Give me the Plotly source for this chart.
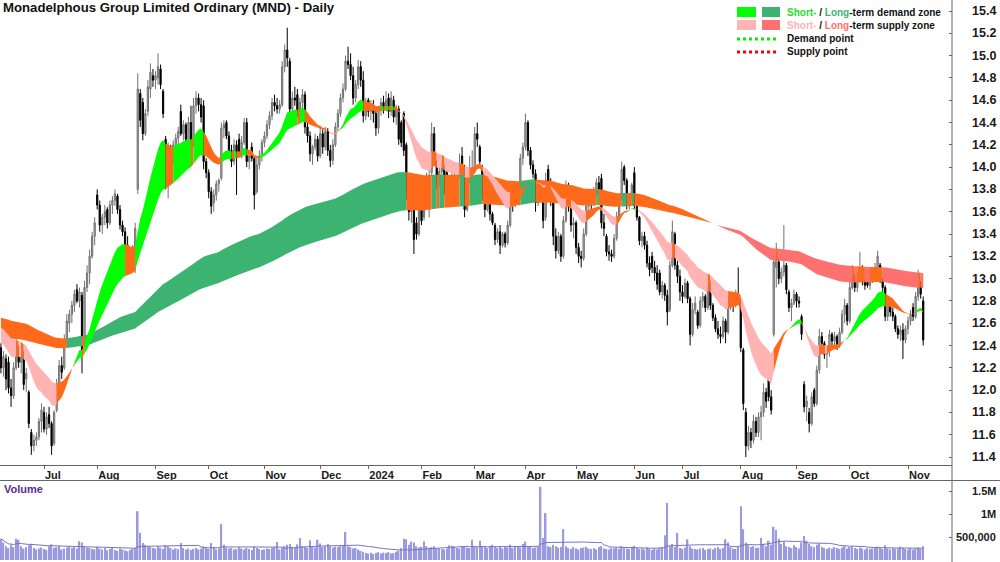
import pandas as pd
import plotly.graph_objects as go

# ---------------- data ----------------
holidays = ["2023-06-12", "2023-12-25", "2023-12-26", "2024-01-01", "2024-01-26",
            "2024-03-29", "2024-04-01", "2024-04-25", "2024-06-10"]

open_ = [
12.38,12.20,12.28,12.25,12.02,11.95,12.20,12.38,12.25,12.30,
12.10,11.98,11.62,11.50,11.55,11.58,11.72,11.80,11.65,11.78,
11.70,11.52,11.82,12.05,12.22,12.20,12.45,12.60,12.68,12.76,
12.90,12.80,12.85,12.40,12.92,13.05,13.20,13.38,13.75,13.66,
13.48,13.55,13.62,13.50,13.66,13.70,13.74,13.62,13.48,13.42,
13.30,13.26,13.15,13.20,13.80,14.66,14.58,14.30,14.50,14.70,
14.82,14.78,14.80,14.88,14.68,14.25,13.85,14.12,14.05,14.20,
14.26,14.50,14.30,14.38,14.25,14.40,14.20,14.55,14.62,14.56,
14.55,14.05,13.95,13.78,13.68,13.75,13.85,13.90,14.35,14.40,
14.28,14.15,14.05,14.20,14.25,14.14,14.22,14.40,14.05,14.18,
14.08,13.78,14.02,14.10,14.22,14.28,14.38,14.46,14.58,14.55,
14.52,14.56,14.90,15.05,14.95,14.52,14.62,14.65,14.50,14.58,
14.65,14.36,14.28,14.12,14.18,14.25,14.10,14.30,14.18,14.32,
14.15,14.06,14.20,14.36,14.48,14.62,14.70,14.95,14.92,14.82,
14.62,14.74,14.90,14.78,14.46,14.60,14.50,14.55,14.48,14.35,
14.52,14.58,14.52,14.62,14.50,14.60,14.45,14.52,14.40,14.48,
14.20,13.75,13.60,13.65,13.50,13.40,13.72,13.55,13.85,13.62,
13.95,14.30,14.05,13.85,13.96,14.00,13.95,13.84,13.88,13.92,
13.80,13.92,14.10,13.96,13.62,13.88,13.94,13.96,14.30,14.18,
14.00,13.75,13.62,13.78,13.58,13.48,13.35,13.42,13.30,13.40,
13.32,13.48,13.78,13.66,13.78,13.82,14.08,14.18,14.40,14.15,
14.02,13.94,13.68,13.78,13.80,13.55,13.98,13.86,13.70,13.38,
13.25,13.38,13.20,13.52,13.82,13.66,13.48,13.50,13.28,13.20,
13.18,13.40,13.65,13.72,13.68,13.78,13.86,13.90,13.50,13.38,
13.24,13.22,13.20,13.36,13.55,13.72,14.00,13.88,13.66,13.72,
13.95,13.66,13.55,13.34,13.38,13.30,13.14,13.20,13.10,13.05,
13.05,12.88,12.94,12.85,12.72,13.12,13.40,13.12,13.02,12.88,
12.84,12.96,12.82,12.50,12.72,12.70,12.58,12.80,12.84,12.74,
12.95,12.76,12.65,12.55,12.50,12.48,12.62,12.52,12.80,12.82,
12.76,12.86,12.80,12.36,11.80,11.50,11.62,11.55,11.72,11.62,
11.76,11.80,11.98,12.18,11.94,12.50,13.10,13.15,13.00,13.06,
13.12,12.88,12.74,12.78,12.86,12.80,12.66,12.05,11.85,11.80,
11.70,12.00,11.88,12.18,12.48,12.42,12.32,12.36,12.50,12.44,
12.48,12.40,12.52,12.68,12.76,12.62,12.92,13.02,12.92,13.02,
13.10,12.98,13.00,12.94,12.98,13.04,13.10,13.12,12.98,12.92,
12.66,12.76,12.70,12.66,12.55,12.50,12.54,12.45,12.55,12.62,
12.74,12.66,12.84,12.96,12.80]

high = [
12.42,12.35,12.32,12.30,12.10,12.25,12.47,12.40,12.42,12.35,
12.20,12.00,11.65,11.60,11.62,11.75,11.88,11.85,11.80,11.85,
11.72,11.82,12.10,12.27,12.30,12.50,12.68,12.72,12.80,12.90,
12.95,12.92,12.88,12.98,13.12,13.26,13.42,13.55,13.80,13.70,
13.58,13.66,13.64,13.70,13.74,13.80,13.76,13.66,13.52,13.46,
13.38,13.28,13.30,13.50,14.84,14.70,14.62,14.52,14.78,14.93,
14.88,14.86,15.02,14.92,14.70,14.28,14.22,14.20,14.24,14.30,
14.36,14.56,14.42,14.40,14.45,14.55,14.62,14.68,14.66,14.62,
14.60,14.08,13.98,13.82,13.80,13.88,13.90,14.40,14.42,14.42,
14.32,14.20,14.25,14.24,14.30,14.28,14.44,14.44,14.15,14.22,
14.10,14.08,14.15,14.25,14.32,14.42,14.50,14.62,14.65,14.62,
14.60,14.95,15.10,15.25,14.98,14.68,14.72,14.70,14.62,14.70,
14.68,14.40,14.32,14.20,14.30,14.28,14.35,14.34,14.36,14.35,
14.20,14.25,14.40,14.52,14.66,14.75,15.00,15.08,15.02,14.90,
14.78,14.96,14.95,14.86,14.62,14.62,14.60,14.60,14.52,14.55,
14.62,14.64,14.68,14.66,14.68,14.64,14.56,14.55,14.42,14.50,
14.22,13.85,13.78,13.68,13.55,13.80,13.74,13.90,13.95,14.00,
14.40,14.36,14.06,14.02,14.05,14.02,13.98,13.92,14.00,13.98,
13.96,14.12,14.18,14.02,13.95,14.10,14.15,14.36,14.40,14.20,
14.02,13.80,13.82,13.80,13.60,13.50,13.45,13.48,13.42,13.42,
13.52,13.82,13.84,13.82,13.86,14.12,14.22,14.48,14.42,14.18,
14.06,13.98,13.82,13.86,13.84,13.95,14.02,13.90,13.74,13.45,
13.42,13.40,13.56,13.88,13.86,13.70,13.55,13.52,13.32,13.25,
13.45,13.70,13.76,13.78,13.82,13.90,13.92,13.94,13.58,13.40,
13.30,13.26,13.40,13.60,13.76,14.05,14.02,13.90,13.75,13.86,
14.00,13.68,13.56,13.42,13.42,13.34,13.20,13.24,13.16,13.12,
13.08,12.98,12.96,12.90,13.16,13.52,13.42,13.16,13.08,12.94,
13.00,12.98,12.84,12.78,12.84,12.72,12.84,12.88,12.86,12.95,
12.98,12.78,12.68,12.62,12.57,12.66,12.64,12.84,12.86,12.84,
12.90,13.10,12.82,12.38,11.84,11.68,11.66,11.78,11.76,11.80,
11.86,12.06,12.02,12.22,12.00,13.25,13.32,13.18,13.10,13.48,
13.14,12.90,12.82,12.90,12.88,12.84,12.68,12.08,11.95,11.84,
11.98,12.02,12.22,12.55,12.52,12.44,12.40,12.54,12.52,12.52,
12.50,12.56,12.72,12.82,12.78,12.98,13.12,13.04,13.06,13.24,
13.12,13.02,13.04,13.02,13.06,13.14,13.25,13.14,13.00,12.94,
12.80,12.78,12.74,12.68,12.58,12.58,12.60,12.58,12.66,12.72,
12.78,12.88,13.08,12.98,12.84]

low = [
12.15,12.12,12.00,11.97,11.85,11.92,12.18,12.20,12.15,12.00,
11.98,11.66,11.42,11.45,11.50,11.55,11.62,11.62,11.60,11.66,
11.42,11.50,11.80,12.00,12.10,12.18,12.40,12.52,12.60,12.70,
12.78,12.74,12.15,12.38,12.88,12.95,13.18,13.30,13.62,13.42,
13.40,13.48,13.45,13.48,13.58,13.65,13.58,13.44,13.38,13.24,
13.20,13.10,13.12,13.05,13.76,14.36,14.24,14.28,14.46,14.62,
14.72,14.70,14.74,14.70,14.44,13.80,13.72,13.98,14.02,14.12,
14.18,14.28,14.24,14.20,14.22,14.10,14.18,14.48,14.50,14.40,
13.98,13.90,13.72,13.58,13.60,13.70,13.78,13.88,14.26,14.25,
14.10,14.00,14.02,13.75,14.10,14.08,14.20,14.00,13.98,14.05,
13.62,13.76,13.98,14.05,14.18,14.25,14.34,14.42,14.50,14.48,
14.48,14.54,14.85,14.90,14.45,14.42,14.55,14.45,14.40,14.52,
14.30,14.22,14.05,14.02,14.15,14.05,14.08,14.12,14.15,14.10,
14.00,14.02,14.18,14.32,14.45,14.58,14.68,14.88,14.78,14.56,
14.58,14.70,14.72,14.40,14.42,14.45,14.42,14.40,14.28,14.30,
14.46,14.48,14.50,14.44,14.46,14.40,14.38,14.20,14.18,14.10,
13.70,13.52,13.50,13.22,13.35,13.38,13.48,13.52,13.78,13.55,
13.92,14.08,13.80,13.82,13.90,13.75,13.80,13.76,13.85,13.76,
13.78,13.90,13.92,13.55,13.60,13.86,13.90,13.94,14.18,14.02,
13.70,13.55,13.60,13.52,13.48,13.30,13.32,13.22,13.28,13.28,
13.30,13.46,13.60,13.64,13.70,13.80,14.02,14.15,14.10,13.98,
13.90,13.60,13.65,13.72,13.45,13.52,13.82,13.65,13.30,13.18,
13.22,13.15,13.18,13.50,13.60,13.42,13.36,13.22,13.14,13.10,
13.16,13.38,13.60,13.62,13.65,13.74,13.76,13.45,13.38,13.20,
13.16,13.15,13.18,13.34,13.52,13.70,13.84,13.62,13.62,13.70,
13.62,13.52,13.30,13.28,13.26,13.10,13.02,13.05,12.98,12.90,
12.85,12.82,12.80,12.58,12.70,13.10,13.08,12.96,12.80,12.78,
12.82,12.78,12.40,12.48,12.68,12.55,12.56,12.74,12.70,12.72,
12.72,12.62,12.52,12.46,12.42,12.46,12.42,12.50,12.72,12.70,
12.74,12.80,12.34,11.82,11.40,11.46,11.48,11.52,11.58,11.58,
11.55,11.76,11.84,11.90,11.78,12.48,12.92,12.95,12.96,13.02,
12.86,12.70,12.62,12.76,12.74,12.74,12.45,11.80,11.72,11.62,
11.68,11.85,11.86,12.15,12.36,12.28,12.20,12.30,12.38,12.40,
12.36,12.38,12.50,12.60,12.58,12.60,12.90,12.88,12.88,12.98,
12.94,12.90,12.92,12.90,12.96,12.98,13.06,12.96,12.86,12.62,
12.62,12.66,12.62,12.52,12.46,12.44,12.28,12.42,12.50,12.58,
12.62,12.64,12.80,12.82,12.40]

close = [
12.20,12.30,12.10,12.02,11.95,12.20,12.40,12.25,12.32,12.05,
12.15,11.70,11.50,11.55,11.58,11.72,11.82,11.65,11.76,11.70,
11.50,11.80,12.05,12.22,12.16,12.45,12.62,12.68,12.76,12.86,
12.80,12.88,12.35,12.92,13.05,13.20,13.38,13.50,13.66,13.48,
13.55,13.60,13.50,13.66,13.70,13.76,13.62,13.48,13.42,13.30,
13.26,13.15,13.25,13.45,14.70,14.42,14.30,14.48,14.72,14.85,
14.78,14.82,14.90,14.74,14.48,13.88,14.15,14.05,14.20,14.26,
14.32,14.30,14.38,14.25,14.40,14.20,14.55,14.62,14.56,14.45,
14.05,13.95,13.78,13.65,13.75,13.85,13.88,14.35,14.38,14.28,
14.15,14.05,14.20,14.10,14.14,14.22,14.40,14.05,14.10,14.08,
13.75,14.02,14.10,14.22,14.28,14.38,14.46,14.58,14.55,14.52,
14.56,14.90,15.05,14.98,14.52,14.62,14.60,14.50,14.58,14.65,
14.36,14.28,14.12,14.18,14.25,14.10,14.30,14.18,14.32,14.15,
14.06,14.20,14.36,14.48,14.62,14.70,14.95,14.92,14.82,14.62,
14.74,14.90,14.78,14.46,14.58,14.50,14.55,14.48,14.35,14.52,
14.58,14.52,14.60,14.50,14.62,14.45,14.52,14.25,14.22,14.15,
13.75,13.60,13.70,13.35,13.40,13.75,13.52,13.85,13.90,13.92,
14.30,14.12,13.85,13.96,14.00,13.80,13.84,13.88,13.92,13.80,
13.92,13.96,13.96,13.62,13.88,13.94,13.96,14.30,14.25,14.05,
13.75,13.62,13.78,13.58,13.50,13.35,13.42,13.30,13.40,13.32,
13.48,13.78,13.66,13.78,13.82,14.08,14.18,14.40,14.15,14.02,
13.94,13.68,13.78,13.80,13.52,13.88,13.86,13.70,13.38,13.25,
13.38,13.20,13.52,13.82,13.66,13.48,13.50,13.28,13.20,13.18,
13.40,13.65,13.72,13.68,13.78,13.86,13.80,13.50,13.45,13.24,
13.22,13.20,13.36,13.55,13.72,13.98,13.88,13.66,13.72,13.84,
13.66,13.55,13.34,13.38,13.30,13.14,13.08,13.10,13.05,12.95,
12.88,12.94,12.85,12.70,13.12,13.42,13.12,13.02,12.88,12.84,
12.96,12.82,12.50,12.72,12.78,12.58,12.80,12.84,12.74,12.92,
12.76,12.65,12.55,12.50,12.48,12.62,12.52,12.80,12.82,12.76,
12.86,12.84,12.38,11.88,11.50,11.62,11.55,11.72,11.62,11.76,
11.80,11.98,11.90,11.94,11.82,13.15,13.20,13.00,13.06,13.12,
12.90,12.74,12.78,12.86,12.80,12.78,12.50,11.85,11.90,11.70,
11.94,11.88,12.18,12.48,12.42,12.32,12.36,12.50,12.44,12.48,
12.40,12.52,12.68,12.76,12.62,12.92,13.00,12.92,13.02,13.10,
12.98,12.94,12.94,12.98,13.04,13.10,13.20,12.98,12.92,12.66,
12.76,12.70,12.66,12.55,12.50,12.54,12.45,12.55,12.62,12.68,
12.66,12.84,12.96,12.86,12.45]

volume_k = [
460,380,300,260,330,280,460,440,300,250,
280,320,350,260,230,250,270,240,220,300,
340,260,280,310,230,250,270,300,260,280,
250,410,380,300,270,260,240,230,290,250,
230,260,210,240,270,220,200,250,230,210,
190,220,240,260,1060,590,370,330,300,280,
260,250,300,270,240,320,300,260,230,250,
240,370,260,230,250,220,240,260,230,250,
290,260,240,370,280,230,250,780,330,270,
250,260,230,240,280,250,230,260,240,220,
300,260,240,220,230,250,240,260,280,390,
230,260,300,330,350,280,260,340,480,300,
280,260,430,300,270,440,360,280,300,350,
300,270,290,280,300,310,610,300,280,250,
260,230,200,180,150,140,160,130,150,170,
140,160,150,170,140,150,180,200,260,460,
450,330,400,380,300,270,290,400,300,260,
280,300,260,250,240,230,250,320,310,290,
260,250,280,300,270,260,440,300,280,420,
300,280,260,300,330,280,260,300,250,280,
270,330,260,300,280,270,350,400,280,300,
260,270,300,1590,480,1020,300,280,330,300,
270,280,670,300,260,240,280,250,230,260,
270,290,250,240,260,230,280,300,250,240,
230,260,250,270,240,300,260,250,240,280,
310,260,240,250,230,270,240,220,250,230,
260,280,540,1240,300,350,280,590,260,240,
270,450,300,250,240,230,250,260,220,240,
250,230,260,280,240,260,450,380,280,250,
240,300,1170,670,380,320,280,300,260,270,
480,350,300,420,330,720,650,460,350,400,
300,280,260,320,280,250,380,520,420,350,
300,280,330,360,280,260,240,270,250,280,
260,240,270,300,250,280,300,260,240,270,
250,230,260,240,250,270,290,260,240,320,
250,230,260,240,250,290,260,240,230,260,
230,250,270,240,300]

price_ticks = [11.4, 11.6, 11.8, 12.0, 12.2, 12.4, 12.6, 12.8, 13.0, 13.2, 13.4,
               13.6, 13.8, 14.0, 14.2, 14.4, 14.6, 14.8, 15.0, 15.2, 15.4]
vol_ticks = [500, 1000, 1500]
vol_tick_text = ["500,000", "1M", "1.5M"]

# zone indicator settings: EMA periods and starting values read at the first day
SHORT_FAST, SHORT_SLOW = 19, 36
LONG_FAST, LONG_SLOW = 160, 250
seed_short_fast, seed_short_slow = 12.42, 12.56
seed_long_fast, seed_long_slow = 12.65, 12.47
VOL_MA = 25

# ---------------- derived ----------------
N = len(close)
days = pd.bdate_range("2023-06-07", "2024-12-31")
days = days[~days.isin(pd.to_datetime(holidays))][:N]
xi = list(range(N))

tickvals, ticktext = [], []
for i in range(1, N):
    if days[i].month != days[i - 1].month:
        tickvals.append(i)
        ticktext.append(str(days[i].year) if days[i].month == 1 else days[i].strftime("%b"))


def ema(vals, seed, n):
    a = 2.0 / (n + 1)
    out = [seed]
    for v in vals[1:]:
        out.append(out[-1] + a * (v - out[-1]))
    return out


sf = ema(close, seed_short_fast, SHORT_FAST)
ss = ema(close, seed_short_slow, SHORT_SLOW)
lf = ema(close, seed_long_fast, LONG_FAST)
ls = ema(close, seed_long_slow, LONG_SLOW)
vol_ma = pd.Series(volume_k).rolling(VOL_MA, min_periods=1).mean().tolist()

W, H = 1000, 562
FONT = "Liberation Sans, Arial, Helvetica, sans-serif"
ORANGE = "#FF6A1A"


def px(xp):
    return xp / W


def py(yp):
    return 1 - yp / H


# x mapping: Jul-2023 tick at 44 px, Nov-2024 tick at 908 px, plot right edge 952 px
ppd = (908 - 44) / (tickvals[-1] - tickvals[0])
x_lo = tickvals[0] - 44 / ppd
x_hi = tickvals[0] + (952 - 44) / ppd
# y mapping: 15.4 at 11 px, 11.4 at 457 px, price pane 0..465 px
ppu = (457 - 11) / 4.0
y_hi = 15.4 + 11 / ppu
y_lo = 11.4 - (465 - 457) / ppu
# volume: 0 at 560 px, 1.5M at 491 px, pane 481..560 px
vpp = 1500 / (560 - 491)
v_hi = 1500 + (491 - 481) * vpp


def zone_colors(fast, slow, demand_col, supply_col):
    # zone colour by EMA order; orange where the close sits on the wrong side of the fast edge
    cols = []
    for f, s, c in zip(fast, slow, close):
        if f >= s:
            cols.append(ORANGE if c < f else demand_col)
        else:
            cols.append(ORANGE if c > f else supply_col)
    return cols


def band_traces(fast, slow, cols):
    tr = []
    start = 0
    for i in range(1, N + 1):
        if i == N or cols[i] != cols[start]:
            a, b = start, min(i, N - 1)
            if a == b:
                a = max(0, a - 1)
            xs = list(range(a, b + 1))
            ys = fast[a:b + 1] + slow[a:b + 1][::-1]
            tr.append(go.Scatter(x=xs + xs[::-1], y=ys, fill="toself", mode="lines",
                                 line=dict(width=0), fillcolor=cols[start],
                                 hoverinfo="skip", showlegend=False,
                                 xaxis="x", yaxis="y"))
            start = i
    return tr


fig = go.Figure()
for t in band_traces(lf, ls, zone_colors(lf, ls, "#3CB371", "#FF7070")):
    fig.add_trace(t)
for t in band_traces(sf, ss, zone_colors(sf, ss, "#00FF00", "#FFB3B3")):
    fig.add_trace(t)

fig.add_trace(go.Candlestick(
    x=xi, open=open_, high=high, low=low, close=close,
    increasing=dict(line=dict(color="#707070", width=1), fillcolor="#B8B8B8"),
    decreasing=dict(line=dict(color="#000000", width=1), fillcolor="#000000"),
    whiskerwidth=0, showlegend=False, xaxis="x", yaxis="y"))

fig.add_trace(go.Bar(x=xi, y=volume_k, marker=dict(color="#9A9ADF", line=dict(width=0)),
                     showlegend=False, xaxis="x2", yaxis="y2"))
fig.add_trace(go.Scatter(x=xi, y=vol_ma, mode="lines", line=dict(color="#7474C8", width=1),
                         showlegend=False, xaxis="x2", yaxis="y2"))

AX = "#666666"
fig.update_layout(
    width=W, height=H, margin=dict(l=0, r=0, t=0, b=0),
    paper_bgcolor="white", plot_bgcolor="white", bargap=0.4, showlegend=False,
    font=dict(family=FONT, size=10, color="#111111"),
    xaxis=dict(domain=[0, px(952)], range=[x_lo, x_hi], anchor="y",
               tickvals=tickvals, ticktext=ticktext, ticks="outside", ticklen=3,
               tickcolor=AX, showline=True, linecolor=AX, linewidth=1,
               ticklabelposition="outside right",
               tickfont=dict(family=FONT, size=11, color="#1a1a1a", weight="bold"),
               showgrid=False, zeroline=False, rangeslider=dict(visible=False)),
    xaxis2=dict(domain=[0, px(952)], range=[x_lo, x_hi], anchor="y2",
                showticklabels=False, showgrid=False, zeroline=False, ticks=""),
    yaxis=dict(domain=[py(465), 1], range=[y_lo, y_hi], anchor="x", side="right",
               tickvals=price_ticks, ticks="inside", ticklen=3, tickcolor=AX,
               showticklabels=False, showgrid=False, zeroline=False),
    yaxis2=dict(domain=[py(560), py(481)], range=[0, v_hi], anchor="x2", side="right",
                tickvals=vol_ticks, ticks="inside", ticklen=3, tickcolor=AX,
                showticklabels=False, showgrid=False, zeroline=False),
)

shapes = [
    dict(type="line", xref="paper", yref="paper", x0=px(952), x1=px(952), y0=0, y1=1,
         line=dict(color=AX, width=1)),
    dict(type="line", xref="paper", yref="paper", x0=0, x1=1, y0=py(480.5), y1=py(480.5),
         line=dict(color=AX, width=1)),
    # legend swatches
    dict(type="rect", xref="paper", yref="paper", x0=px(737), x1=px(756), y0=py(17), y1=py(7),
         fillcolor="#00FF00", line=dict(width=0)),
    dict(type="rect", xref="paper", yref="paper", x0=px(762), x1=px(780), y0=py(17), y1=py(7),
         fillcolor="#3CB371", line=dict(width=0)),
    dict(type="rect", xref="paper", yref="paper", x0=px(737), x1=px(756), y0=py(30), y1=py(20),
         fillcolor="#FFB3B3", line=dict(width=0)),
    dict(type="rect", xref="paper", yref="paper", x0=px(762), x1=px(780), y0=py(30), y1=py(20),
         fillcolor="#FF7070", line=dict(width=0)),
    dict(type="line", xref="paper", yref="paper", x0=px(737), x1=px(776), y0=py(39), y1=py(39),
         line=dict(color="#00EE00", width=3, dash="dot")),
    dict(type="line", xref="paper", yref="paper", x0=px(737), x1=px(776), y0=py(52), y1=py(52),
         line=dict(color="#FF0000", width=3, dash="dot")),
]
fig.update_layout(shapes=shapes)

ann = []
for v in price_ticks:
    ann.append(dict(xref="paper", yref="y", x=px(998), y=v, text=f"<b>{v:.1f}</b>",
                    xanchor="right", yanchor="middle", showarrow=False,
                    font=dict(family=FONT, size=12.5, color="#1a1a1a")))
for v, t in zip(vol_ticks, vol_tick_text):
    ann.append(dict(xref="paper", yref="y2", x=px(998), y=v, text=f"<b>{t}</b>",
                    xanchor="right", yanchor="middle", showarrow=False,
                    font=dict(family=FONT, size=11, color="#1a1a1a")))
ann.append(dict(xref="paper", yref="paper", x=px(1), y=py(7.5),
                text="<b>Monadelphous Group Limited Ordinary (MND) - Daily</b>",
                xanchor="left", yanchor="middle", showarrow=False,
                font=dict(family=FONT, size=13.2, color="#111111")))
ann.append(dict(xref="paper", yref="paper", x=px(2), y=py(489),
                text="<b>Volume</b>", xanchor="left", yanchor="middle", showarrow=False,
                font=dict(family=FONT, size=11, color="#5B2C8F")))
legend_rows = [
    (12.5, '<b><span style="color:#1FE01F">Short-</span> / <span style="color:#3CB371">Long</span>-term demand zone</b>'),
    (25.5, '<b><span style="color:#FFB3B3">Short-</span> / <span style="color:#FF7070">Long</span>-term supply zone</b>'),
    (39, "<b>Demand point</b>"),
    (51.5, "<b>Supply point</b>"),
]
for yy, t in legend_rows:
    ann.append(dict(xref="paper", yref="paper", x=px(785), y=py(yy), text=t,
                    xanchor="left", yanchor="middle", showarrow=False,
                    font=dict(family=FONT, size=10, color="#111111")))
fig.update_layout(annotations=ann)

fig.write_html("out.html")
